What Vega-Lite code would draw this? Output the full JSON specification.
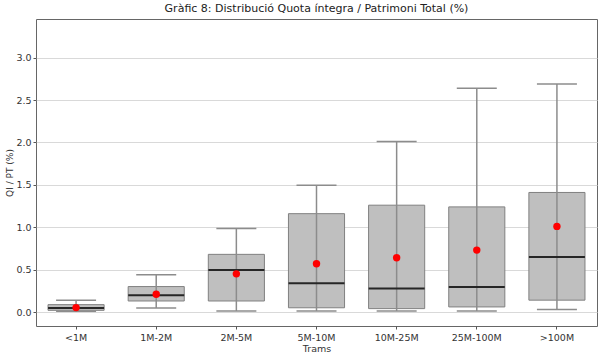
{
  "$schema": "https://vega.github.io/schema/vega-lite/v6.json",
  "autosize": "none",
  "width": 561,
  "height": 307,
  "padding": {"left": 36, "top": 19, "right": 3, "bottom": 31},
  "background": "white",
  "title": {"text": "Gràfic 8: Distribució Quota íntegra / Patrimoni Total (%)", "font": "DejaVu Sans", "fontSize": 11, "fontWeight": "normal", "color": "#222", "offset": 5},
  "config": {
    "view": {"stroke": "#666", "strokeWidth": 1},
    "axis": {"labelFont": "DejaVu Sans", "titleFont": "DejaVu Sans", "labelFontSize": 9.5, "titleFontSize": 9.5, "titleFontWeight": "normal", "labelColor": "#333", "titleColor": "#333", "tickColor": "#555", "tickSize": 3, "domain": false}
  },
  "data": {"values": [
    {"tram": "<1M", "lo": 0.01, "q1": 0.02, "med": 0.047, "q3": 0.087, "hi": 0.138, "mean": 0.052},
    {"tram": "1M-2M", "lo": 0.047, "q1": 0.13, "med": 0.197, "q3": 0.30, "hi": 0.44, "mean": 0.21},
    {"tram": "2M-5M", "lo": 0.012, "q1": 0.13, "med": 0.496, "q3": 0.68, "hi": 0.985, "mean": 0.45},
    {"tram": "5M-10M", "lo": 0.012, "q1": 0.05, "med": 0.34, "q3": 1.16, "hi": 1.494, "mean": 0.57},
    {"tram": "10M-25M", "lo": 0.012, "q1": 0.04, "med": 0.276, "q3": 1.26, "hi": 2.01, "mean": 0.64},
    {"tram": "25M-100M", "lo": 0.012, "q1": 0.06, "med": 0.295, "q3": 1.24, "hi": 2.64, "mean": 0.73},
    {"tram": ">100M", "lo": 0.03, "q1": 0.14, "med": 0.65, "q3": 1.41, "hi": 2.69, "mean": 1.01}
  ]},
  "encoding": {
    "x": {"field": "tram", "type": "nominal", "sort": null, "title": "Trams",
      "scale": {"paddingInner": 0, "paddingOuter": 0},
      "axis": {"labelAngle": 0, "grid": false, "labelPadding": 3, "titlePadding": 2}}
  },
  "layer": [
    {
      "mark": {"type": "bar", "width": {"band": 0.7}, "fill": "#bfbfbf", "stroke": "#808080", "strokeWidth": 1},
      "encoding": {
        "y": {"field": "q1", "type": "quantitative", "title": "QI / PT (%)",
          "scale": {"domain": [-0.165, 3.456], "nice": false, "zero": false},
          "axis": {"values": [0, 0.5, 1, 1.5, 2, 2.5, 3], "format": ".1f", "grid": true, "gridColor": "#d9d9d9", "gridWidth": 1, "labelPadding": 2, "titlePadding": 1, "titleFontSize": 9}},
        "y2": {"field": "q3"}
      }
    },
    {
      "mark": {"type": "rule", "color": "#8c8c8c", "strokeWidth": 1.5},
      "encoding": {"y": {"field": "lo", "type": "quantitative"}, "y2": {"field": "hi"}}
    },
    {
      "mark": {"type": "tick", "orient": "horizontal", "size": 40, "thickness": 1.5, "color": "#8c8c8c", "opacity": 1},
      "encoding": {"y": {"field": "hi", "type": "quantitative"}}
    },
    {
      "mark": {"type": "tick", "orient": "horizontal", "size": 40, "thickness": 1.5, "color": "#8c8c8c", "opacity": 1},
      "encoding": {"y": {"field": "lo", "type": "quantitative"}}
    },
    {
      "mark": {"type": "tick", "orient": "horizontal", "size": 56, "thickness": 2, "color": "#262626", "opacity": 1},
      "encoding": {"y": {"field": "med", "type": "quantitative"}}
    },
    {
      "mark": {"type": "point", "filled": true, "color": "#ff0000", "size": 55, "opacity": 1},
      "encoding": {"y": {"field": "mean", "type": "quantitative"}}
    }
  ]
}
